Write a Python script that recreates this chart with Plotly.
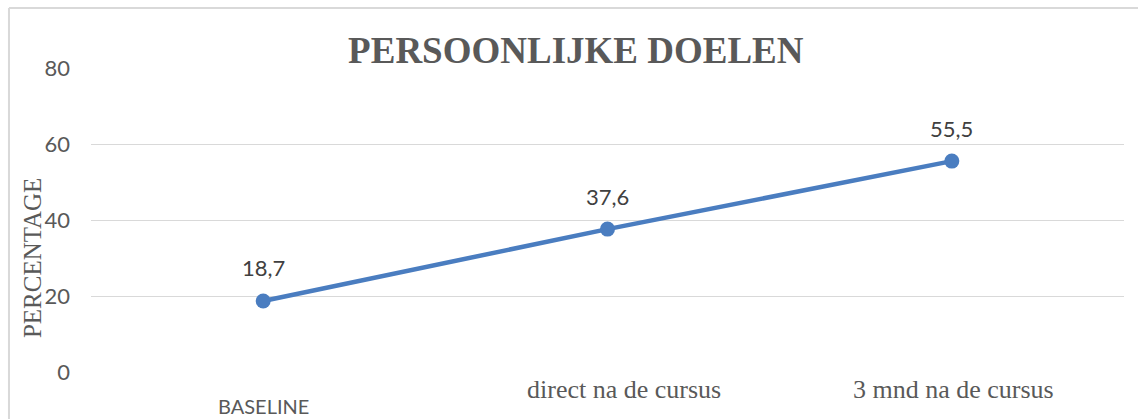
import plotly.graph_objects as go

categories = ["BASELINE", "direct na de cursus", "3 mnd na de cursus"]
values = [18.7, 37.6, 55.5]
y_ticks = [0, 20, 40, 60, 80]

fig = go.Figure()
fig.add_trace(go.Scatter(
    x=list(range(len(categories))), y=values,
    mode="lines+markers",
    line=dict(color="#4A7DC0", width=4.5),
    marker=dict(color="#4A7DC0", size=15),
    cliponaxis=False,
    hoverinfo="skip",
))

# data labels
for i, v in enumerate(values):
    fig.add_annotation(
        x=i, y=v, xref="x", yref="y", text=f"{v:.1f}".replace(".", ","), showarrow=False,
        yanchor="middle", xanchor="center", yshift=33,
        font=dict(family="Lato, Carlito, sans-serif", size=22, color="#404040"),
    )

# category labels (mixed fonts as in the reference)
label_styles = [
    dict(family="Lato, sans-serif", size=20, yshift=-20, xshift=0),
    dict(family="Liberation Serif, Times New Roman, serif", size=26, yshift=-1, xshift=16),
    dict(family="Liberation Serif, Times New Roman, serif", size=26, yshift=-1, xshift=2),
]
for i, (cat, st) in enumerate(zip(categories, label_styles)):
    fig.add_annotation(
        x=i, y=0, xref="x", yref="paper", text=cat, showarrow=False,
        yanchor="top", xanchor="center", yshift=st["yshift"], xshift=st["xshift"],
        font=dict(family=st["family"], size=st["size"], color="#595959"),
    )

# y-axis title
fig.add_annotation(
    x=-0.057, y=0.375, xref="paper", yref="paper", text="PERCENTAGE", showarrow=False,
    textangle=-90, xanchor="center", yanchor="middle",
    font=dict(family="Liberation Serif, Times New Roman, serif", size=25, color="#595959"),
)

# outer border (top and left edges visible)
fig.add_shape(type="line", xref="paper", yref="paper",
              x0=-0.0794, x1=1.1, y0=1.197, y1=1.197,
              line=dict(color="#D9D9D9", width=2), layer="below")
fig.add_shape(type="line", xref="paper", yref="paper",
              x0=-0.0794, x1=-0.0794, y0=-0.3, y1=1.197,
              line=dict(color="#D9D9D9", width=2), layer="below")

fig.update_layout(
    width=1138, height=419,
    margin=dict(l=91, r=14, t=68, b=47),
    paper_bgcolor="white", plot_bgcolor="white",
    showlegend=False,
    title=dict(text="<b>PERSOONLIJKE DOELEN</b>", x=0.506, xanchor="center", y=0.88, yanchor="middle",
               font=dict(family="Liberation Serif, Times New Roman, serif", size=37, color="#595959")),
    xaxis=dict(range=[-0.5, 2.5], showgrid=False, zeroline=False, showline=False,
               showticklabels=False, ticks=""),
    yaxis=dict(range=[0, 80], tickvals=y_ticks, showgrid=True, gridcolor="#D9D9D9", gridwidth=1,
               zeroline=False, showline=False, ticks="", ticklabelstandoff=20,
               tickfont=dict(family="Lato, Carlito, sans-serif", size=22, color="#595959")),
)

fig.write_html("out.html", config={"displayModeBar": False},
               post_script="document.body.style.margin='0';document.body.style.padding='0';document.body.style.overflow='hidden';")
